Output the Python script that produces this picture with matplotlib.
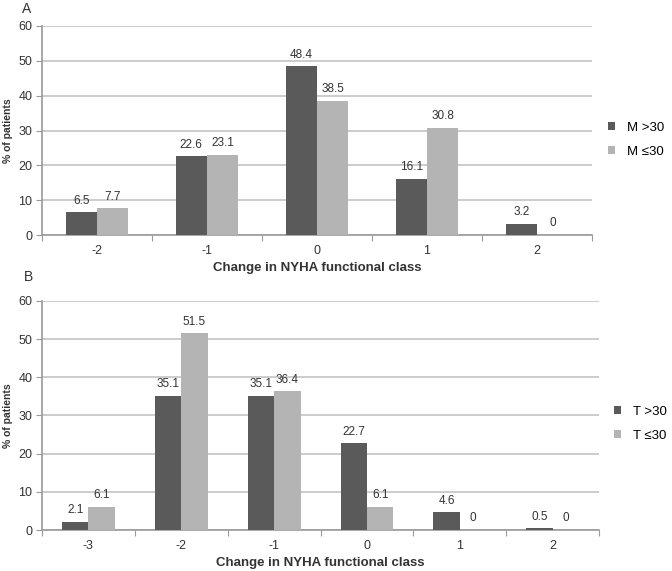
import matplotlib.pyplot as plt
import numpy as np

plt.rcParams['font.family'] = ['Liberation Sans', 'DejaVu Sans']

# 数据
classes_a = ['-2', '-1', '0', '1', '2']
m_gt30 = [6.5, 22.6, 48.4, 16.1, 3.2]
m_le30 = [7.7, 23.1, 38.5, 30.8, 0]

classes_b = ['-3', '-2', '-1', '0', '1', '2']
t_gt30 = [2.1, 35.1, 35.1, 22.7, 4.6, 0.5]
t_le30 = [6.1, 51.5, 36.4, 6.1, 0, 0]

dark = '#5a5a5a'
light = '#b4b4b4'
grid_c = '#c4c4c4'
axis_c = '#9a9a9a'


def draw_panel(fig, ax, cats, s1, s2, lab1, lab2, leg_x, leg_y):
    n = len(cats)
    x = np.arange(n)
    w = 0.285
    b1 = ax.bar(x - w / 2, s1, w, color=dark, label=lab1, zorder=3)
    b2 = ax.bar(x + w / 2, s2, w, color=light, label=lab2, zorder=3)
    for rects, vals in ((b1, s1), (b2, s2)):
        for r, v in zip(rects, vals):
            ax.annotate(f'{v:g}', (r.get_x() + r.get_width() / 2, v),
                        xytext=(0, 4), textcoords='offset points',
                        ha='center', va='bottom', fontsize=8.5, color='#333333')
    ax.set_xlim(-0.5, n - 0.5)
    ax.set_ylim(0, 60)
    ax.set_yticks(range(0, 61, 10))
    ax.yaxis.grid(True, color=grid_c, linewidth=1.2, zorder=0)
    ax.set_axisbelow(True)
    # 类别刻度放在分界处
    ax.set_xticks(np.arange(-0.5, n, 1.0))
    ax.set_xticklabels([])
    ax.set_xticks(x, minor=True)
    ax.set_xticklabels(cats, minor=True, fontsize=9, color='#333333')
    ax.tick_params(axis='x', which='minor', length=0, pad=7)
    ax.tick_params(axis='x', which='major', length=4, color=axis_c, direction='out')
    ax.tick_params(axis='y', length=4, color=axis_c, labelsize=9,
                   labelcolor='#333333', pad=3)
    for s in ('top', 'right'):
        ax.spines[s].set_visible(False)
    for s in ('left', 'bottom'):
        ax.spines[s].set_color(axis_c)
        ax.spines[s].set_linewidth(1.2)
    ax.set_xlabel('Change in NYHA functional class', fontsize=9.5,
                  fontweight='bold', color='#333333', labelpad=4)
    ax.set_ylabel('% of patients', fontsize=7.5, fontweight='bold',
                  color='#333333', labelpad=4)
    ax.legend(loc='center left', bbox_to_anchor=(leg_x, leg_y),
              bbox_transform=fig.transFigure, frameon=False, borderpad=0,
              borderaxespad=0, fontsize=9.5, handlelength=0.55,
              handleheight=0.55, handletextpad=0.9, labelspacing=0.9)


fig = plt.figure(figsize=(6.72, 5.71), dpi=100)
ax_a = fig.add_axes([0.0625, 0.5884, 0.8185, 0.3661])
ax_b = fig.add_axes([0.0625, 0.0718, 0.829, 0.4011])

draw_panel(fig, ax_a, classes_a, m_gt30, m_le30, 'M >30', 'M \u226430',
           608 / 672, 1 - 140 / 571)
draw_panel(fig, ax_b, classes_b, t_gt30, t_le30, 'T >30', 'T \u226430',
           614 / 672, 1 - 424 / 571)

fig.text(0.033, 0.997, 'A', fontsize=10, color='#333333', va='top')
fig.text(0.035, 1 - 277 / 571, 'B', fontsize=10, color='#333333', va='center')

fig.savefig('out.png', dpi=100, facecolor='white')
